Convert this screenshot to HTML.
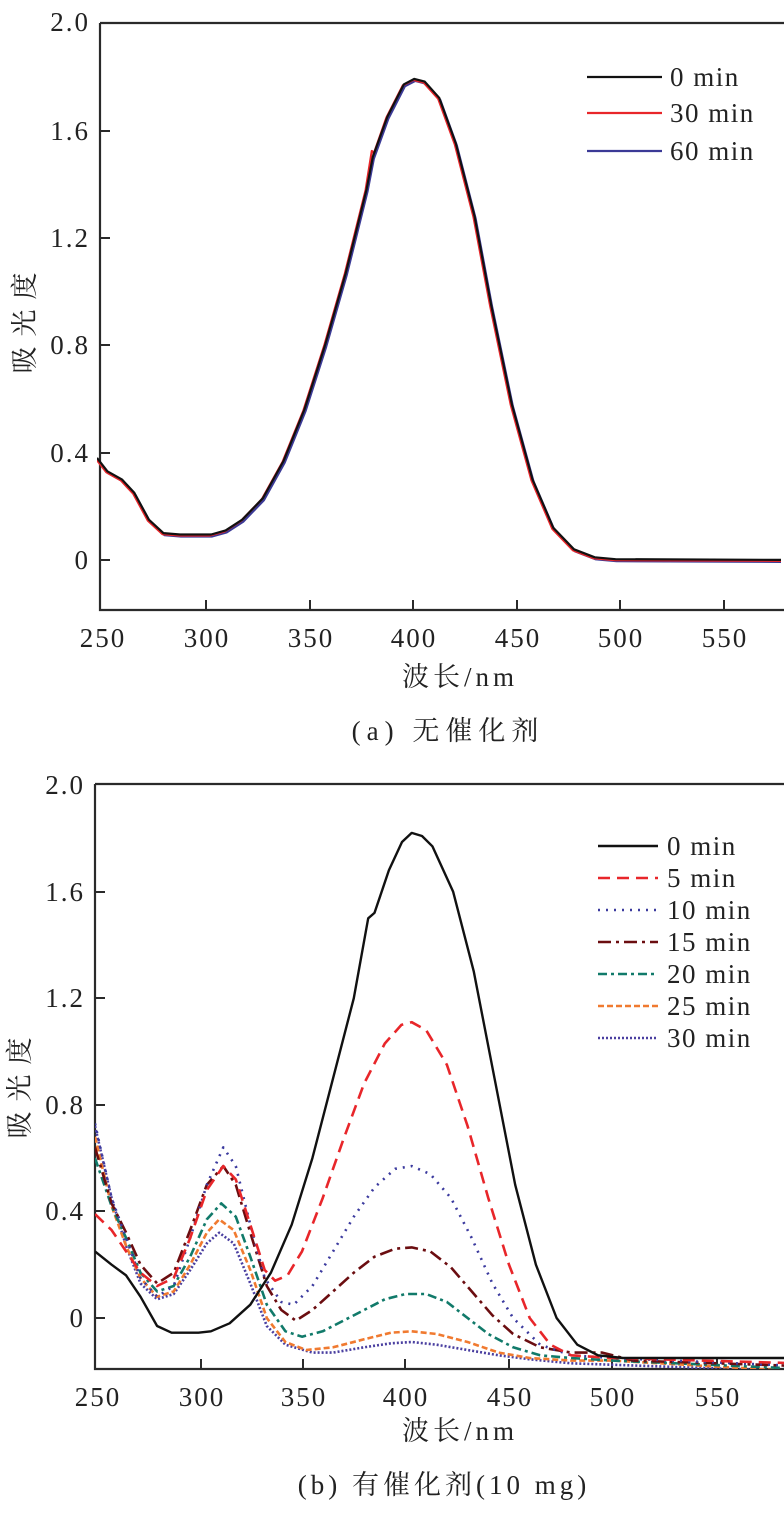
<!DOCTYPE html>
<html><head><meta charset="utf-8"><style>
html,body{margin:0;padding:0;background:#fff;}
svg{display:block;font-family:"Liberation Serif","Noto Serif CJK SC",serif;}
</style></head><body>
<svg width="784" height="1513" viewBox="0 0 784 1513" xmlns="http://www.w3.org/2000/svg">
<defs>
<clipPath id="c1"><rect x="100" y="23" width="684" height="587"/></clipPath>
<clipPath id="c2"><rect x="95" y="784" width="689" height="585"/></clipPath>
</defs>
<g fill="#222" font-size="26" letter-spacing="2">
<path d="M100,23 H784 M100,23 V610 H784" stroke="#2a2a2a" stroke-width="2.2" fill="none"/>
<g stroke="#2a2a2a" stroke-width="2"><line x1="100" x2="110" y1="131" y2="131"/><line x1="100" x2="110" y1="238" y2="238"/><line x1="100" x2="110" y1="345" y2="345"/><line x1="100" x2="110" y1="453" y2="453"/><line x1="100" x2="110" y1="560" y2="560"/>
<line x1="206" x2="206" y1="610" y2="600"/><line x1="310" x2="310" y1="610" y2="600"/><line x1="413" x2="413" y1="610" y2="600"/><line x1="517" x2="517" y1="610" y2="600"/><line x1="620" x2="620" y1="610" y2="600"/><line x1="724" x2="724" y1="610" y2="600"/></g>
<g text-anchor="end" font-size="27"><text x="90" y="31">2.0</text><text x="90" y="140">1.6</text><text x="90" y="247">1.2</text><text x="90" y="354">0.8</text><text x="90" y="462">0.4</text><text x="90" y="569">0</text></g>
<g text-anchor="middle" font-size="27"><text x="103" y="647">250</text><text x="207" y="647">300</text><text x="311" y="647">350</text><text x="414" y="647">400</text><text x="518" y="647">450</text><text x="621" y="647">500</text><text x="725" y="647">550</text></g>
<text x="460" y="686" text-anchor="middle" letter-spacing="4" font-size="27">波长/nm</text>
<text transform="translate(34,318) rotate(-90)" text-anchor="middle" letter-spacing="10" font-size="27">吸光度</text>
<text x="448" y="740" text-anchor="middle" letter-spacing="6" font-size="27">(a) 无催化剂</text>
<path d="M95,784 H784 M95,784 V1369 H784" stroke="#2a2a2a" stroke-width="2.2" fill="none"/>
<g stroke="#2a2a2a" stroke-width="2"><line x1="95" x2="105" y1="892" y2="892"/><line x1="95" x2="105" y1="998" y2="998"/><line x1="95" x2="105" y1="1105" y2="1105"/><line x1="95" x2="105" y1="1211" y2="1211"/><line x1="95" x2="105" y1="1318" y2="1318"/>
<line x1="201" x2="201" y1="1369" y2="1359"/><line x1="303" x2="303" y1="1369" y2="1359"/><line x1="405" x2="405" y1="1369" y2="1359"/><line x1="509" x2="509" y1="1369" y2="1359"/><line x1="612" x2="612" y1="1369" y2="1359"/><line x1="717" x2="717" y1="1369" y2="1359"/></g>
<g text-anchor="end" font-size="27"><text x="85" y="794">2.0</text><text x="85" y="901">1.6</text><text x="85" y="1007">1.2</text><text x="85" y="1114">0.8</text><text x="85" y="1220">0.4</text><text x="85" y="1327">0</text></g>
<g text-anchor="middle" font-size="27"><text x="98" y="1406">250</text><text x="202" y="1406">300</text><text x="304" y="1406">350</text><text x="406" y="1406">400</text><text x="510" y="1406">450</text><text x="613" y="1406">500</text><text x="718" y="1406">550</text></g>
<text x="460" y="1440" text-anchor="middle" letter-spacing="4" font-size="27">波长/nm</text>
<text transform="translate(29,1083) rotate(-90)" text-anchor="middle" letter-spacing="10" font-size="27">吸光度</text>
<text x="444" y="1494" text-anchor="middle" letter-spacing="4" font-size="27">(b) 有催化剂(10 mg)</text>
</g>

<g fill="none" stroke-linejoin="round" stroke-linecap="butt">
<g clip-path="url(#c1)" transform="translate(-3,0)" stroke-width="2.2">
<polyline stroke="#3b3a96" transform="translate(1,2)" points="100,457.9 110.4,471.3 124.9,479.4 137.3,492.8 151.9,519.7 166.4,533.1 183,534.5 214.1,534.5 228.6,530.4 245.2,519.7 265.9,498.2 286.7,460.6 307.4,409.5 328.1,345 348.9,272.4 369.6,189.1 375.8,156.9 390.4,116.6 406.9,84.3 417.3,78.9 427.7,81.6 442.2,97.8 458.8,143.4 477.5,216 494.1,304.7 514.8,404.1 535.5,479.4 556.3,527.8 577,549.3 597.8,557.3 618.5,559.2 805,560"/>
<polyline stroke="#e8262a" transform="translate(-1,1)" points="100,457.9 110.4,471.3 124.9,479.4 137.3,492.8 151.9,519.7 166.4,533.1 183,534.5 214.1,534.5 228.6,530.4 245.2,519.7 265.9,498.2 286.7,460.6 307.4,409.5 328.1,345 348.9,272.4 369.6,189.1 375.8,150 378,152 390.4,116.6 406.9,84.3 417.3,78.9 427.7,81.6 442.2,97.8 458.8,143.4 477.5,216 494.1,304.7 514.8,404.1 535.5,479.4 556.3,527.8 577,549.3 597.8,557.3 618.5,559.2 805,560"/>
<polyline stroke="#111" points="100,457.9 110.4,471.3 124.9,479.4 137.3,492.8 151.9,519.7 166.4,533.1 183,534.5 214.1,534.5 228.6,530.4 245.2,519.7 265.9,498.2 286.7,460.6 307.4,409.5 328.1,345 348.9,272.4 369.6,189.1 375.8,156.9 390.4,116.6 406.9,84.3 417.3,78.9 427.7,81.6 442.2,97.8 458.8,143.4 477.5,216 494.1,304.7 514.8,404.1 535.5,479.4 556.3,527.8 577,549.3 597.8,557.3 618.5,559.2 805,560"/>
</g>
<g clip-path="url(#c2)" stroke-width="2.6">
<polyline stroke="#4a3fa0" stroke-dasharray="2,2" points="95,1126.1 111.6,1198.1 126.1,1246 140.5,1283.4 157.1,1299.3 173.7,1294 190.2,1270 206.8,1243.4 219.2,1232.7 233.7,1243.4 250.3,1283.4 266.8,1326 285.4,1344.7 312.4,1352.6 333.1,1352.6 364.1,1347.3 391,1343.3 411.7,1342 436.6,1344.7 467.6,1350 498.7,1355.3 529.7,1359.3 571.1,1363.3 798.8,1371.3"/>
<polyline stroke="#f07a30" stroke-dasharray="6,3" points="95,1136.8 111.6,1206.1 126.1,1246 140.5,1278 157.1,1296.7 173.7,1291.4 190.2,1264.7 206.8,1232.7 219.2,1219.4 233.7,1230.1 250.3,1270 266.8,1318 285.4,1342 306.1,1350 333.1,1347.3 364.1,1339.3 391,1332.7 411.7,1331.3 436.6,1334 467.6,1342 498.7,1352.6 529.7,1358 571.1,1360.6 612.5,1360.6 798.8,1371.3"/>
<polyline stroke="#117a6a" stroke-dasharray="9,4,3,4" points="95,1158.1 111.6,1206.1 126.1,1238 140.5,1272.7 157.1,1291.4 173.7,1286 190.2,1256.7 206.8,1219.4 221.3,1203.4 235.8,1216.7 250.3,1256.7 266.8,1304.7 285.4,1331.3 302,1336.7 322.7,1331.3 343.4,1320.7 364.1,1310 384.8,1299.3 405.5,1294 426.2,1294 446.9,1302 467.6,1318 488.3,1334 513.1,1347.3 540.1,1355.3 571.1,1358 612.5,1360.6 798.8,1368.6"/>
<polyline stroke="#6b0d10" stroke-dasharray="13,5,3,5" points="95,1147.4 111.6,1203.4 126.1,1232.7 140.5,1264.7 157.1,1283.4 173.7,1272.7 190.2,1230.1 206.8,1184.8 223.3,1166.1 235.8,1184.8 250.3,1232.7 266.8,1286 281.3,1310 295.8,1320.7 312.4,1310 333.1,1291.4 353.8,1272.7 374.5,1256.7 395.2,1248.7 411.7,1247.4 430.3,1251.4 451,1267.4 471.7,1291.4 492.4,1315.3 513.1,1334 540.1,1347.3 571.1,1352.6 602.2,1352.6 633.2,1360.6 798.8,1366"/>
<polyline stroke="#3b3a9e" stroke-dasharray="2,6" points="95,1123.5 111.6,1198.1 126.1,1238 140.5,1278 157.1,1296.7 173.7,1286 190.2,1238 206.8,1184.8 223.3,1147.4 235.8,1166.1 250.3,1224.7 264.7,1278 281.3,1302 293.7,1304.7 312.4,1286 333.1,1251.4 353.8,1216.7 374.5,1187.4 395.2,1168.8 411.7,1166.1 430.3,1174.1 451,1198.1 471.7,1238 492.4,1283.4 513.1,1318 540.1,1344.7 571.1,1355.3 612.5,1358 798.8,1366"/>
<polyline stroke="#e8262a" stroke-dasharray="12,7" points="95,1214.1 111.6,1230.1 126.1,1251.4 140.5,1272.7 157.1,1286 173.7,1278 190.2,1238 206.8,1190.1 223.3,1166.1 235.8,1179.4 250.3,1224.7 264.7,1270 275.1,1280.7 287.5,1275.4 302,1251.4 322.7,1198.1 343.4,1139.4 364.1,1083.5 384.8,1043.5 401.4,1024.9 411.7,1022.2 426.2,1030.2 446.9,1064.8 467.6,1126.1 488.3,1198.1 509,1264.7 529.7,1318 550.4,1344.7 571.1,1355.3 612.5,1358 798.8,1363.3"/>
<polyline stroke="#111" stroke-width="2.4" points="95,1251.4 111.6,1264.7 126.1,1275.4 140.5,1296.7 157.1,1326 171.6,1332.7 198.5,1332.7 210.9,1331.3 229.6,1323.3 250.3,1304.7 270.9,1272.7 291.7,1224.7 312.4,1158.1 333.1,1078.2 353.8,998.2 368.2,918.3 374.5,912.9 388.9,870.3 402,842 411.7,832.9 422,836 432.4,846.3 453.1,891.6 473.8,971.6 494.5,1078.2 515.2,1184.8 535.9,1264.7 556.6,1318 577.3,1344.7 598,1355.3 622.9,1358 798.8,1358"/>
</g>
</g>

<g font-size="27" fill="#222" letter-spacing="1.5">
<line x1="587" x2="662" y1="77" y2="77" stroke="#111" stroke-width="2.2"/><text x="670" y="86">0 min</text>
<line x1="587" x2="662" y1="113" y2="113" stroke="#e8262a" stroke-width="2.2"/><text x="670" y="122">30 min</text>
<line x1="587" x2="662" y1="151" y2="151" stroke="#3b3a96" stroke-width="2.2"/><text x="670" y="160">60 min</text>
<line x1="598" x2="658" y1="846" y2="846" stroke="#111" stroke-width="2.4"/><text x="667" y="855">0 min</text>
<line x1="598" x2="658" y1="878" y2="878" stroke="#e8262a" stroke-width="2.4" stroke-dasharray="12,7"/><text x="667" y="887">5 min</text>
<line x1="598" x2="658" y1="910" y2="910" stroke="#3b3a9e" stroke-width="2.6" stroke-dasharray="2,6"/><text x="667" y="919">10 min</text>
<line x1="598" x2="658" y1="942" y2="942" stroke="#6b0d10" stroke-width="2.6" stroke-dasharray="13,5,3,5"/><text x="667" y="951">15 min</text>
<line x1="598" x2="658" y1="974" y2="974" stroke="#117a6a" stroke-width="2.6" stroke-dasharray="9,4,3,4"/><text x="667" y="983">20 min</text>
<line x1="598" x2="658" y1="1006" y2="1006" stroke="#f07a30" stroke-width="2.6" stroke-dasharray="6,3"/><text x="667" y="1015">25 min</text>
<line x1="598" x2="658" y1="1038" y2="1038" stroke="#4a3fa0" stroke-width="2.6" stroke-dasharray="2,2"/><text x="667" y="1047">30 min</text>
</g>
</svg>
</body></html>
